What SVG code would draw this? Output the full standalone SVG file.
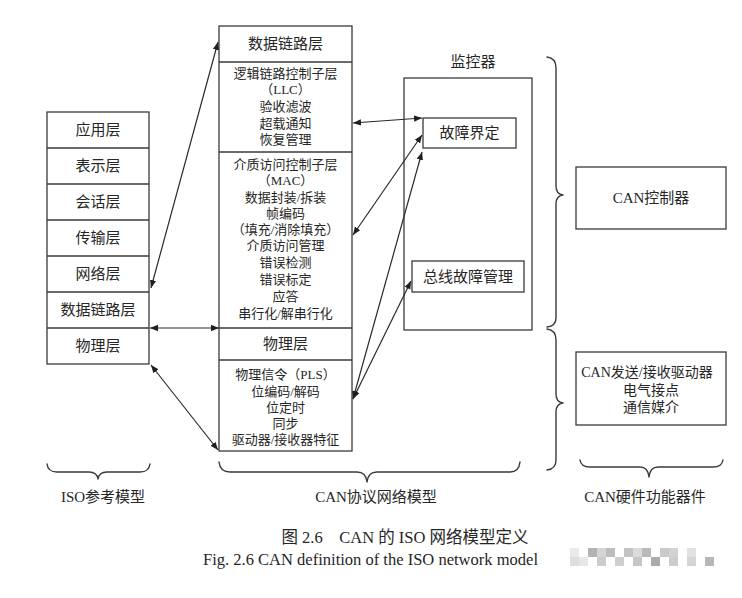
<svg xmlns="http://www.w3.org/2000/svg" width="742" height="598" viewBox="0 0 742 598">
<style>
.box{fill:none;stroke:#3a3a3a;stroke-width:1.3}
.ln{fill:none;stroke:#3a3a3a;stroke-width:1.3}
.br{fill:none;stroke:#3a3a3a;stroke-width:1.4;stroke-linecap:round;stroke-linejoin:round}
.t{font-family:"Liberation Serif","Noto Sans CJK SC",serif;fill:#262626;text-anchor:middle;dominant-baseline:central}
.h{font-size:15px}
.s{font-size:13px}
.c{fill:none;stroke:#2a2a2a;stroke-width:1.2;marker-start:url(#ah);marker-end:url(#ah)}
.m{stroke:none}
</style>
<defs>
<marker id="ah" viewBox="0 0 10 10" refX="10" refY="5" markerWidth="8" markerHeight="8" markerUnits="userSpaceOnUse" orient="auto-start-reverse">
<path d="M0,1 L10,5 L0,9 Z" fill="#1e1e1e"/>
</marker>
</defs>
<rect width="742" height="598" fill="#ffffff"/>

<g id="iso-model">
<rect class="box" x="47" y="112" width="102" height="252"/>
<line class="ln" x1="47" y1="148" x2="149" y2="148"/>
<line class="ln" x1="47" y1="184" x2="149" y2="184"/>
<line class="ln" x1="47" y1="220" x2="149" y2="220"/>
<line class="ln" x1="47" y1="256" x2="149" y2="256"/>
<line class="ln" x1="47" y1="292" x2="149" y2="292"/>
<line class="ln" x1="47" y1="328" x2="149" y2="328"/>
<text class="t h" x="98" y="130">应用层</text>
<text class="t h" x="98" y="166">表示层</text>
<text class="t h" x="98" y="202">会话层</text>
<text class="t h" x="98" y="238">传输层</text>
<text class="t h" x="98" y="274">网络层</text>
<text class="t h" x="98" y="310">数据链路层</text>
<text class="t h" x="98" y="346">物理层</text>
</g>

<g id="can-model">
<rect class="box" x="219" y="26" width="133" height="425"/>
<line class="ln" x1="219" y1="62" x2="352" y2="62"/>
<line class="ln" x1="219" y1="152" x2="352" y2="152"/>
<line class="ln" x1="219" y1="328" x2="352" y2="328"/>
<line class="ln" x1="219" y1="360" x2="352" y2="360"/>
<text class="t h" x="285.5" y="44">数据链路层</text>
<text class="t s" x="285.5" y="73">逻辑链路控制子层</text>
<text class="t s" x="285.5" y="89">（LLC）</text>
<text class="t s" x="285.5" y="106">验收滤波</text>
<text class="t s" x="285.5" y="123">超载通知</text>
<text class="t s" x="285.5" y="139.5">恢复管理</text>
<text class="t s" x="285.5" y="164">介质访问控制子层</text>
<text class="t s" x="285.5" y="180.5">（MAC）</text>
<text class="t s" x="285.5" y="197">数据封装/拆装</text>
<text class="t s" x="285.5" y="213">帧编码</text>
<text class="t s" x="285.5" y="229">（填充/消除填充）</text>
<text class="t s" x="285.5" y="245.5">介质访问管理</text>
<text class="t s" x="285.5" y="262">错误检测</text>
<text class="t s" x="285.5" y="279">错误标定</text>
<text class="t s" x="285.5" y="296.5">应答</text>
<text class="t s" x="285.5" y="313">串行化/解串行化</text>
<text class="t h" x="285.5" y="344">物理层</text>
<text class="t s" x="285.5" y="374">物理信令（PLS）</text>
<text class="t s" x="285.5" y="391">位编码/解码</text>
<text class="t s" x="285.5" y="407.5">位定时</text>
<text class="t s" x="285.5" y="423.5">同步</text>
<text class="t s" x="285.5" y="439.5">驱动器/接收器特征</text>
</g>

<g id="monitor">
<text class="t h" x="473" y="62">监控器</text>
<rect class="box" x="404" y="78" width="128" height="252"/>
</g>
<g id="fault-confinement">
<rect class="box" x="423" y="118" width="93" height="30"/>
<text class="t h" x="469.5" y="133">故障界定</text>
</g>
<g id="bus-fault-management">
<rect class="box" x="412" y="261" width="112" height="31"/>
<text class="t h" x="468" y="276.5">总线故障管理</text>
</g>

<g id="can-controller">
<rect class="box" x="576" y="167" width="150" height="62"/>
<text class="t h" x="651" y="198">CAN控制器</text>
</g>
<g id="can-transceiver">
<rect class="box" x="576" y="352" width="150" height="73"/>
<text class="t" style="font-size:14px" x="647" y="372">CAN发送/接收驱动器</text>
<text class="t" style="font-size:14px" x="651" y="390">电气接点</text>
<text class="t" style="font-size:14px" x="651" y="407">通信媒介</text>
</g>

<g id="braces">
<path class="br" d="M547,57 Q556,58 556,68 L556,186 Q556,194 563,195 Q556,196 556,204 L556,318 Q556,326 547,327"/>
<path class="br" d="M547,329 Q556,330 556,340 L556,394 Q556,402 563,403 Q556,404 556,412 L556,460 Q556,469 547,470"/>
<path class="br" d="M47,464 Q48,472 57,472 L89,472 Q97,472 98,479 Q99,472 107,472 L140,472 Q149,472 150,464"/>
<path class="br" d="M219,462 Q220,472 230,472 L357,472 Q366,472 367,482 Q368,472 377,472 L510,472 Q519,472 520,462"/>
<path class="br" d="M580,460 Q581,467 590,467 L640,467 Q648,467 649,477 Q650,467 658,467 L713,467 Q722,467 723,460"/>
<text class="t h" x="103" y="497">ISO参考模型</text>
<text class="t h" x="376" y="497">CAN协议网络模型</text>
<text class="t h" x="645" y="497">CAN硬件功能器件</text>
</g>

<g id="connectors">
<line class="c" x1="151" y1="288" x2="218" y2="42"/>
<line class="c" x1="150" y1="328" x2="219" y2="328"/>
<line class="c" x1="151" y1="365" x2="218" y2="450"/>
<line class="c" x1="353" y1="123" x2="422" y2="118"/>
<line class="c" x1="353" y1="235" x2="422" y2="135"/>
<line class="c" x1="353" y1="399" x2="422" y2="152"/>
<line class="c" x1="353" y1="399" x2="411" y2="281"/>
</g>

<g id="caption">
<text class="t" style="font-size:16.5px" x="405" y="537">图 2.6　CAN 的 ISO 网络模型定义</text>
<text class="t" style="font-size:16px" x="370.5" y="559" textLength="335" lengthAdjust="spacingAndGlyphs">Fig. 2.6 CAN definition of the ISO network model</text>
</g>

<g id="mosaic" opacity="0.75">
<rect class="m" x="570" y="548" width="9" height="9" fill="#e4e4e4"/>
<rect class="m" x="588" y="548" width="9" height="9" fill="#9a9a9a"/>
<rect class="m" x="597" y="548" width="9" height="9" fill="#c8c8c8"/>
<rect class="m" x="606" y="548" width="9" height="9" fill="#a8a8a8"/>
<rect class="m" x="624" y="548" width="9" height="9" fill="#b0b0b0"/>
<rect class="m" x="633" y="548" width="9" height="9" fill="#d0d0d0"/>
<rect class="m" x="642" y="548" width="9" height="9" fill="#a4a4a4"/>
<rect class="m" x="660" y="548" width="9" height="9" fill="#b8b8b8"/>
<rect class="m" x="669" y="548" width="9" height="9" fill="#c4c4c4"/>
<rect class="m" x="687" y="548" width="9" height="9" fill="#d8d8d8"/>
<rect class="m" x="570" y="557" width="9" height="9" fill="#d4d4d4"/>
<rect class="m" x="579" y="557" width="9" height="9" fill="#e0e0e0"/>
<rect class="m" x="597" y="557" width="9" height="9" fill="#bcbcbc"/>
<rect class="m" x="615" y="557" width="9" height="9" fill="#c0c0c0"/>
<rect class="m" x="633" y="557" width="9" height="9" fill="#b4b4b4"/>
<rect class="m" x="651" y="557" width="9" height="9" fill="#909090"/>
<rect class="m" x="669" y="557" width="9" height="9" fill="#bcbcbc"/>
<rect class="m" x="687" y="557" width="9" height="9" fill="#c8c8c8"/>
<rect class="m" x="705" y="557" width="9" height="9" fill="#a0a0a0"/>
</g>
</svg>
